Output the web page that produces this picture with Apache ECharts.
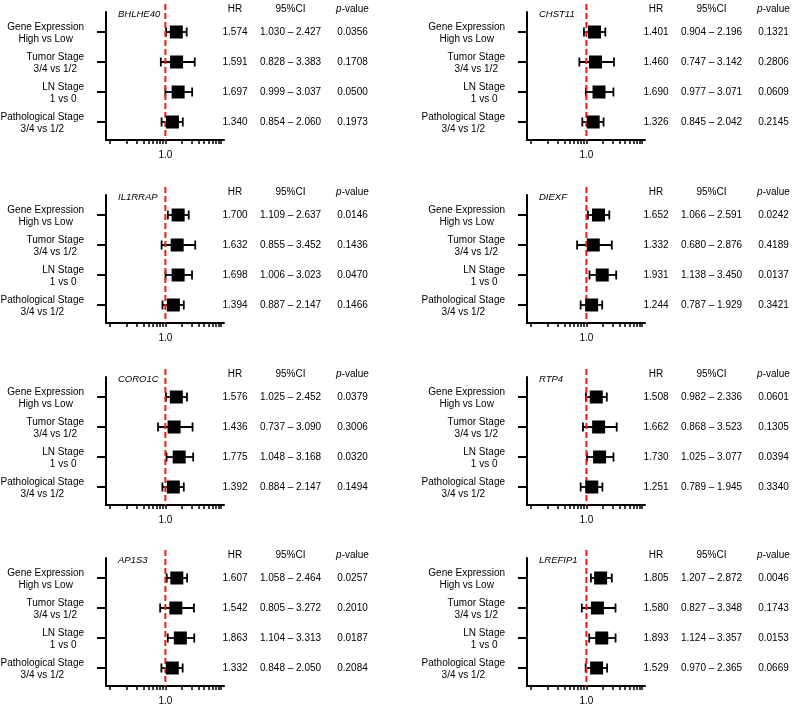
<!DOCTYPE html>
<html>
<head>
<meta charset="utf-8">
<title>Forest plots</title>
<script src="https://cdn.jsdelivr.net/npm/echarts@6.0.0/dist/echarts.min.js"></script>
<style>
  html, body { margin: 0; padding: 0; background: #fff; }
  #main { width: 794px; height: 711px; }
</style>
</head>
<body>
<div id="main"></div>
<script>
var genes = ['BHLHE40', 'CHST11', 'IL1RRAP', 'DIEXF', 'CORO1C', 'RTP4', 'AP1S3', 'LREFIP1'];
var rowLabels = [
  ['Gene Expression', 'High vs Low'],
  ['Tumor Stage', '3/4 vs 1/2'],
  ['LN Stage', '1 vs 0'],
  ['Pathological Stage', '3/4 vs 1/2']
];
var hrValues = [
  [1.574, 1.591, 1.697, 1.340],
  [1.401, 1.460, 1.690, 1.326],
  [1.700, 1.632, 1.698, 1.394],
  [1.652, 1.332, 1.931, 1.244],
  [1.576, 1.436, 1.775, 1.392],
  [1.508, 1.662, 1.730, 1.251],
  [1.607, 1.542, 1.863, 1.332],
  [1.805, 1.580, 1.893, 1.529]
];
var ciLow = [
  [1.030, 0.828, 0.999, 0.854],
  [0.904, 0.747, 0.977, 0.845],
  [1.109, 0.855, 1.006, 0.887],
  [1.066, 0.680, 1.138, 0.787],
  [1.025, 0.737, 1.048, 0.884],
  [0.982, 0.868, 1.025, 0.789],
  [1.058, 0.805, 1.104, 0.848],
  [1.207, 0.827, 1.124, 0.970]
];
var ciHigh = [
  [2.427, 3.383, 3.037, 2.060],
  [2.196, 3.142, 3.071, 2.042],
  [2.637, 3.452, 3.023, 2.147],
  [2.591, 2.876, 3.450, 1.929],
  [2.452, 3.090, 3.168, 2.147],
  [2.336, 3.523, 3.077, 1.945],
  [2.464, 3.272, 3.313, 2.050],
  [2.872, 3.348, 3.357, 2.365]
];
var pValues = [
  [0.0356, 0.1708, 0.0500, 0.1973],
  [0.1321, 0.2806, 0.0609, 0.2145],
  [0.0146, 0.1436, 0.0470, 0.1466],
  [0.0242, 0.4189, 0.0137, 0.3421],
  [0.0379, 0.3006, 0.0320, 0.1494],
  [0.0601, 0.1305, 0.0394, 0.3340],
  [0.0257, 0.2010, 0.0187, 0.2084],
  [0.0046, 0.1743, 0.0153, 0.0669]
];
var xTicks = [0.1, 0.2, 0.3, 0.4, 0.5, 0.6, 0.7, 0.8, 0.9, 1, 2, 3, 4, 5, 6, 7, 8, 9, 10];
var xLabels = [1];
var refHR = 1;

// layout
var colLeft = [106, 527];
var rowTop = [12, 195, 377, 558];
var plotW = 118, plotH = 128, rowStep = 30;
var yMin = -20 / rowStep, yMax = yMin + plotH / rowStep;
var font = 'Liberation Sans, Arial, sans-serif';
var ink = '#000';
var rowIdx = [0, 1, 2, 3];

var myChart = echarts.init(document.getElementById('main'));

function renderWhisker(params, api) {
  var lo = api.coord([api.value(0), api.value(2)]);
  var hi = api.coord([api.value(1), api.value(2)]);
  var cap = 4.5;
  var st = { stroke: '#000', lineWidth: 1.8 };
  return {
    type: 'group',
    children: [
      { type: 'line', shape: { x1: lo[0], y1: lo[1], x2: hi[0], y2: hi[1] }, style: st },
      { type: 'line', shape: { x1: lo[0], y1: lo[1] - cap, x2: lo[0], y2: lo[1] + cap }, style: st },
      { type: 'line', shape: { x1: hi[0], y1: hi[1] - cap, x2: hi[0], y2: hi[1] + cap }, style: st }
    ]
  };
}

function textAxis(i, name, offset, fmt) {
  return {
    type: 'value', gridIndex: i, position: 'right', offset: offset,
    inverse: true, min: yMin, max: yMax,
    axisLine: { show: false, onZero: false }, axisTick: { show: false }, splitLine: { show: false },
    axisLabel: {
      customValues: rowIdx, margin: 0, align: 'center', verticalAlign: 'middle',
      fontSize: 10, color: ink, fontFamily: font,
      formatter: function (v) { return fmt(Math.round(v)); }
    },
    name: name, nameLocation: 'start', nameGap: 3,
    nameTextStyle: {
      fontSize: 10, color: ink, fontFamily: font, align: 'center', verticalAlign: 'middle',
      rich: { i: { fontStyle: 'italic', fontSize: 10, color: ink, fontFamily: font } }
    }
  };
}

var grid = [], xAxis = [], yAxis = [], series = [], title = [];

genes.forEach(function (gene, i) {
  var left = colLeft[i % 2], top = rowTop[Math.floor(i / 2)];
  grid.push({ left: left, top: top, width: plotW, height: plotH, outerBoundsMode: 'none' });

  title.push({
    text: gene, left: left + 12, top: top - 4, padding: 0,
    textStyle: { fontSize: 9.5, fontStyle: 'italic', fontWeight: 'normal', color: ink, fontFamily: font, lineHeight: 12 }
  });

  xAxis.push({
    type: 'log', logBase: 10, gridIndex: i, min: 0.085, max: 11.4,
    position: 'bottom',
    axisLine: { onZero: false, lineStyle: { color: '#000', width: 2 } },
    axisTick: { customValues: xTicks, length: 4, lineStyle: { color: '#000', width: 1.5 } },
    axisLabel: {
      customValues: xLabels, margin: 10, fontSize: 10, color: ink, fontFamily: font,
      formatter: function (v) { return Number(v).toFixed(1); }
    },
    splitLine: { show: false }
  });

  var base = yAxis.length;
  yAxis.push({
    type: 'value', gridIndex: i, inverse: true, min: yMin, max: yMax,
    axisLine: { show: true, onZero: false, lineStyle: { color: '#000', width: 2 } },
    axisTick: { show: true, customValues: rowIdx, length: 9, lineStyle: { color: '#000', width: 2 } },
    axisLabel: {
      customValues: rowIdx, margin: 22, align: 'right', verticalAlign: 'middle',
      fontSize: 10, lineHeight: 12, color: ink, fontFamily: font, padding: [2, 0, 0, 0],
      formatter: function (v) {
        var l = rowLabels[Math.round(v)];
        return '{c|' + l[0] + '}\n{c|' + l[1] + '}';
      },
      rich: { c: { align: 'center', fontSize: 10, lineHeight: 12, color: ink, fontFamily: font } }
    },
    splitLine: { show: false }
  });
  yAxis.push(textAxis(i, 'HR', 11, function (r) { return hrValues[i][r].toFixed(3); }));
  yAxis.push(textAxis(i, '95%CI', 66.5, function (r) {
    return ciLow[i][r].toFixed(3) + ' \u2013 ' + ciHigh[i][r].toFixed(3);
  }));
  yAxis.push(textAxis(i, '{i|p}-value', 128.5, function (r) { return pValues[i][r].toFixed(4); }));

  series.push({
    type: 'custom', xAxisIndex: i, yAxisIndex: base, z: 3,
    renderItem: renderWhisker,
    encode: { x: [0, 1], y: 2 },
    data: rowIdx.map(function (r) { return [ciLow[i][r], ciHigh[i][r], r]; })
  });
  series.push({
    type: 'line', xAxisIndex: i, yAxisIndex: base, z: 4, clip: false,
    symbol: 'none', silent: true,
    lineStyle: { color: '#ee1c1c', width: 2, type: [6, 3] },
    data: [[refHR, yMin - 8 / rowStep], [refHR, yMax]]
  });
  series.push({
    type: 'scatter', xAxisIndex: i, yAxisIndex: base, z: 5,
    symbol: 'rect', symbolSize: 13,
    itemStyle: { color: '#000', opacity: 1 },
    data: rowIdx.map(function (r) { return [hrValues[i][r], r]; })
  });
});

var option = {
  animation: false,
  backgroundColor: '#fff',
  textStyle: { fontFamily: font },
  title: title,
  grid: grid,
  xAxis: xAxis,
  yAxis: yAxis,
  series: series
};
myChart.setOption(option);
</script>
</body>
</html>
